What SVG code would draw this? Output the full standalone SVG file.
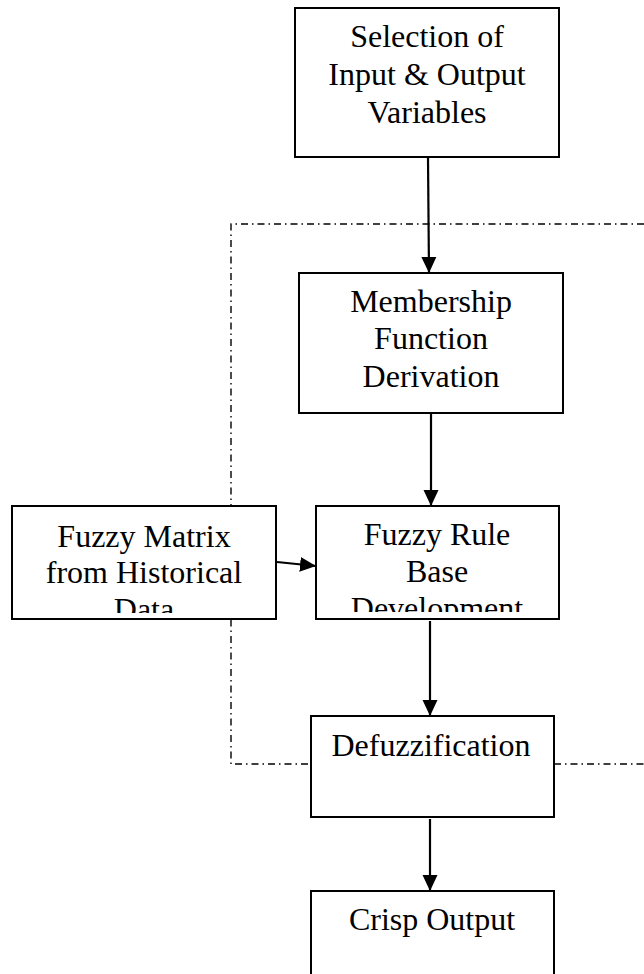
<svg xmlns="http://www.w3.org/2000/svg" width="644" height="974" viewBox="0 0 644 974">
<style>
.box{fill:#fff;stroke:#000;stroke-width:2}
.t{font-family:"Liberation Serif","Times New Roman",serif;font-size:32px;fill:#000;text-anchor:middle}
.c{stroke:#000;stroke-width:2.2;fill:none}
.dd{stroke:#000;stroke-width:1.4;fill:none;stroke-dasharray:7 4 1.5 4}
</style>
<defs>
<marker id="ah" markerWidth="16" markerHeight="16" viewBox="0 0 16 16" refX="16" refY="8" orient="auto" markerUnits="userSpaceOnUse">
<path d="M0,0.5 L16,8 L0,15.5 Z" fill="#000"/>
</marker>
<clipPath id="cm"><rect x="13" y="507" width="262" height="106"/></clipPath>
<clipPath id="cr"><rect x="317" y="507" width="241" height="105"/></clipPath>
</defs>
<g id="boundary">
<polyline class="dd" points="644,224 231,224 231,764 311,764"/>
<line class="dd" x1="554" y1="764" x2="644" y2="764"/>
</g>
<g id="n1">
<rect class="box" x="295" y="8" width="264" height="149"/>
<text class="t" x="427" y="47">Selection of</text>
<text class="t" x="427" y="85">Input &amp; Output</text>
<text class="t" x="427" y="123">Variables</text>
</g>
<g id="n2">
<rect class="box" x="299" y="273" width="264" height="140"/>
<text class="t" x="431" y="312">Membership</text>
<text class="t" x="431" y="349">Function</text>
<text class="t" x="431" y="387">Derivation</text>
</g>
<g id="n3">
<rect class="box" x="12" y="506" width="264" height="113"/>
<g clip-path="url(#cm)">
<text class="t" x="144" y="547">Fuzzy Matrix</text>
<text class="t" x="144" y="583">from Historical</text>
<text class="t" x="144" y="620">Data</text>
</g>
</g>
<g id="n4">
<rect class="box" x="316" y="506" width="243" height="113"/>
<g clip-path="url(#cr)">
<text class="t" x="437" y="545">Fuzzy Rule</text>
<text class="t" x="437" y="582">Base</text>
<text class="t" x="437" y="619">Development</text>
</g>
</g>
<g id="n5">
<rect class="box" x="311" y="716" width="243" height="101"/>
<text class="t" x="431" y="756">Defuzzification</text>
</g>
<g id="n6">
<rect class="box" x="311" y="891" width="243" height="100"/>
<text class="t" x="432" y="930">Crisp Output</text>
</g>
<g id="connectors">
<line class="c" x1="428" y1="158" x2="429" y2="273" marker-end="url(#ah)"/>
<line class="c" x1="431" y1="414" x2="431" y2="506" marker-end="url(#ah)"/>
<line class="c" x1="277" y1="562" x2="316" y2="566" marker-end="url(#ah)"/>
<line class="c" x1="430" y1="621" x2="430" y2="716" marker-end="url(#ah)"/>
<line class="c" x1="430" y1="819" x2="430" y2="891" marker-end="url(#ah)"/>
</g>
</svg>
